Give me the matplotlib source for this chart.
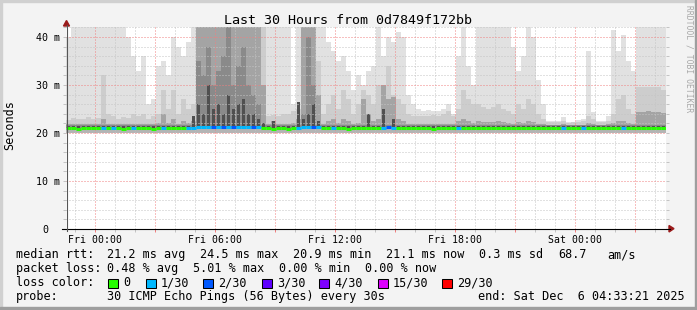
import numpy as np
import pandas as pd
import matplotlib
matplotlib.use("Agg")
import matplotlib.pyplot as plt
import matplotlib.dates as mdates
from matplotlib.lines import Line2D
from matplotlib.patches import Rectangle, Polygon
from matplotlib.ticker import FuncFormatter, MultipleLocator

W, H = 697, 310

title = "Last 30 Hours from 0d7849f172bb"
end_time = pd.Timestamp("2025-12-06 04:33:21")
span_hours = 30
bin_minutes = 15

# smoke bands, top of each band in ms (45 = off the scale), one value per 15 min
smoke_low = 19.9
smoke_top1 = [
    40, 45, 45, 45, 45, 45, 45, 45, 45, 45,
    45, 45, 40, 36, 33, 36, 26, 27, 34, 35,
    32, 40, 38, 36, 39, 45, 45, 45, 45, 45,
    45, 45, 45, 45, 45, 45, 45, 45, 45, 45,
    45, 45, 45, 45, 45, 26, 45, 45, 45, 45,
    45, 42, 39, 37, 35, 36, 33, 29, 32, 30,
    33, 34, 45, 36, 40, 39, 41, 40, 28, 26,
    25, 24.5, 24.8, 24.5, 24.5, 25, 26, 24, 36, 45,
    34, 30, 45, 45, 45, 45, 45, 45, 45, 38,
    33, 36, 45, 40, 31, 26, 22.6, 22.5, 22.6, 23.4,
    22.3, 22.3, 22.8, 23.0, 37, 24.4, 22.5, 22.5, 23.5, 41.5,
    37, 40.4, 35, 33, 45, 45, 45, 45, 45, 45,
]
smoke_top2 = [
    22.8, 23.2, 23.0, 22.9, 23.4, 23.0, 23.2, 32, 24, 23.5,
    23.0, 23.4, 23.2, 24, 23.5, 24, 23.0, 23.5, 24, 29,
    25, 29, 24, 27, 25, 26, 45, 45, 45, 45,
    45, 45, 45, 45, 45, 45, 45, 45, 45, 45,
    23.5, 23.8, 23.5, 24, 24, 24.5, 25, 45, 45, 45,
    35, 24, 26, 28, 25, 29, 27, 24, 26, 29,
    28, 26, 30, 27, 34, 28, 27, 26, 24, 23.5,
    23.5, 23.6, 23.5, 23.7, 23.5, 24, 24.5, 23.5, 25, 29,
    27, 26, 26, 25.5, 25, 25.5, 26, 25, 24.5, 24,
    26, 25, 27, 26, 24, 23, 22.2, 22.2, 22.2, 22.6,
    22.1, 22.2, 22.3, 22.4, 23.5, 23.0, 22.2, 22.2, 22.6, 24,
    27, 28, 25, 24, 29.6, 29.6, 29.6, 29.6, 29.6, 29,
]
smoke_top3 = [
    21.8, 21.8, 21.8, 21.8, 21.8, 21.8, 21.8, 23, 21.8, 21.8,
    21.8, 21.8, 21.8, 21.8, 21.8, 21.8, 21.8, 21.8, 22, 24,
    22, 23, 21.8, 22.5, 22, 22.5, 45, 45, 45, 45,
    45, 45, 45, 45, 45, 45, 45, 45, 45, 30,
    21.8, 22.4, 21.8, 21.8, 21.8, 22, 23, 45, 45, 45,
    28, 21.8, 22.5, 23, 22, 23, 22.5, 21.8, 22, 27,
    24, 22.5, 23, 30, 27, 27.6, 23, 22.5, 21.8, 21.8,
    21.8, 21.8, 21.8, 21.8, 21.8, 21.8, 21.8, 21.8, 22.5, 23,
    22.5, 22, 22.5, 22.3, 22.2, 22.2, 22.5, 22.2, 22, 21.8,
    22.2, 22, 22.5, 22.3, 21.8, 21.8, 21.7, 21.7, 21.7, 21.9,
    21.7, 21.7, 21.7, 21.7, 22, 21.9, 21.7, 21.7, 21.8, 22,
    22.5, 22.5, 22, 21.8, 24.4, 24.4, 24.6, 24.4, 24.4, 24.2,
]
smoke_top4 = [
    21.6, 21.6, 21.6, 21.6, 21.6, 21.6, 21.6, 21.6, 21.6, 21.6,
    21.6, 21.6, 21.6, 21.6, 21.6, 21.6, 21.6, 21.6, 21.6, 21.6,
    21.6, 21.6, 21.6, 21.6, 21.6, 21.6, 35, 32, 38, 30,
    33, 36, 45, 30, 34, 38, 30, 28, 26, 21.6,
    21.6, 21.6, 21.6, 21.6, 21.6, 21.6, 21.6, 24, 40, 30,
    21.6, 21.6, 21.6, 21.6, 21.6, 21.6, 21.6, 21.6, 21.6, 21.6,
    21.6, 21.6, 21.6, 21.6, 21.6, 21.6, 21.6, 21.6, 21.6, 21.6,
    21.6, 21.6, 21.6, 21.6, 21.6, 21.6, 21.6, 21.6, 21.6, 21.6,
    21.6, 21.6, 21.6, 21.6, 21.6, 21.6, 21.6, 21.6, 21.6, 21.6,
    21.6, 21.6, 21.6, 21.6, 21.6, 21.6, 21.6, 21.6, 21.6, 21.6,
    21.6, 21.6, 21.6, 21.6, 21.6, 21.6, 21.6, 21.6, 21.6, 21.6,
    21.6, 21.6, 21.6, 21.6, 21.6, 21.6, 21.6, 21.6, 21.6, 21.6,
]
smoke_core = [
    21.4, 21.4, 21.4, 21.4, 21.4, 21.4, 21.4, 21.4, 21.4, 21.4,
    21.4, 21.4, 21.4, 21.4, 21.4, 21.4, 21.4, 21.4, 21.4, 21.4,
    21.4, 21.4, 21.4, 21.4, 21.4, 23.5, 26, 24, 30, 25,
    26, 24, 28, 25, 26, 27, 24, 24, 23, 22,
    21.4, 22.6, 21.4, 21.4, 21.4, 21.4, 26.5, 23, 24, 26,
    22.5, 21.4, 21.4, 21.4, 21.4, 21.4, 21.4, 21.4, 21.4, 21.4,
    24, 21.4, 21.4, 25, 21.4, 23, 21.4, 21.4, 21.4, 21.4,
    21.4, 21.4, 21.4, 21.4, 21.4, 21.4, 21.4, 21.4, 21.4, 21.4,
    21.4, 21.4, 21.4, 21.4, 21.4, 21.4, 21.4, 21.4, 21.4, 21.4,
    21.4, 21.4, 21.4, 21.4, 21.4, 21.4, 21.4, 21.4, 21.4, 21.4,
    21.4, 21.4, 21.4, 21.4, 21.4, 21.4, 21.4, 21.4, 21.4, 21.4,
    21.4, 21.4, 21.4, 21.4, 21.4, 21.4, 21.4, 21.4, 21.4, 21.4,
]
median_rtt = [
    21.0, 21.0, 20.9, 21.0, 21.0, 21.0, 21.0, 21.1, 21.0, 21.0,
    21.0, 20.9, 21.0, 21.0, 21.0, 21.0, 21.0, 20.9, 21.0, 21.0,
    21.0, 21.0, 21.0, 21.0, 21.0, 21.1, 21.2, 21.2, 21.2, 21.3,
    21.2, 21.2, 21.2, 21.3, 21.2, 21.2, 21.2, 21.2, 21.2, 21.0,
    21.0, 20.9, 21.0, 21.0, 20.9, 21.0, 21.1, 21.2, 21.2, 21.2,
    21.2, 21.0, 21.0, 21.0, 21.0, 21.0, 20.9, 21.0, 21.0, 21.0,
    21.0, 21.0, 21.0, 21.1, 21.2, 21.1, 21.0, 21.0, 21.0, 21.0,
    21.0, 21.0, 21.0, 20.9, 21.0, 21.0, 21.0, 21.0, 21.0, 21.0,
    21.0, 21.0, 21.0, 21.0, 21.0, 21.0, 21.0, 21.0, 21.0, 21.0,
    21.0, 21.0, 21.0, 21.0, 21.0, 21.0, 21.0, 21.0, 21.0, 21.0,
    21.0, 21.0, 21.0, 21.0, 21.0, 21.0, 21.0, 21.0, 21.0, 21.0,
    21.0, 21.0, 21.0, 21.0, 21.0, 21.0, 21.0, 21.0, 21.0, 21.0,
]
# index into loss_labels / loss_colors
loss_idx = [
    0, 0, 0, 0, 0, 0, 0, 1, 0, 1,
    0, 0, 0, 1, 0, 0, 0, 0, 0, 1,
    0, 0, 0, 0, 1, 1, 1, 1, 1, 2,
    1, 2, 1, 2, 1, 1, 1, 2, 1, 0,
    0, 0, 0, 0, 0, 0, 1, 1, 1, 2,
    1, 0, 0, 1, 0, 0, 0, 0, 0, 0,
    0, 0, 0, 1, 2, 1, 0, 0, 0, 0,
    0, 0, 0, 0, 0, 0, 0, 0, 1, 0,
    0, 0, 0, 0, 0, 0, 0, 0, 0, 0,
    0, 0, 0, 0, 0, 0, 0, 0, 0, 1,
    0, 0, 0, 1, 0, 0, 0, 0, 0, 0,
    0, 1, 0, 0, 0, 0, 0, 0, 0, 0,
]
loss_labels = ["0", "1/30", "2/30", "3/30", "4/30", "15/30", "29/30"]
loss_colors = ["#26ff00", "#00b8ff", "#0059ff", "#5e00ff", "#7e00ff", "#dd00ff", "#ff0000"]

rtt_stats = ["21.2 ms avg", "24.5 ms max", "20.9 ms min", "21.1 ms now", "0.3 ms sd", "68.7", "am/s"]
loss_stats = ["0.48 % avg", "5.01 % max", "0.00 % min", "0.00 % now"]
probe_text = "30 ICMP Echo Pings (56 Bytes) every 30s"
end_text = "end: Sat Dec  6 04:33:21 2025"


def fx(px):
    return px / W


def fy(py):
    return 1 - py / H


plt.rcParams["font.family"] = "DejaVu Sans Mono"

fig = plt.figure(figsize=(W / 100, H / 100), dpi=100, facecolor="#f3f3f3")
ax = fig.add_axes([fx(66), fy(229), 600 / W, 201.6 / H])
ax.set_facecolor("white")

# time bins
start = end_time - pd.Timedelta(hours=span_hours)
n = len(smoke_top1)
t0 = mdates.date2num(pd.date_range(start, periods=n, freq=f"{bin_minutes}min").to_pydatetime())
bw = bin_minutes / 1440.0
tc = t0 + bw / 2

# smoke, outer band first, darker bands on top
bands = [
    (smoke_top1, "#e1e1e1", 1.0),
    (smoke_top2, "#cdcdcd", 1.0),
    (smoke_top3, "#a4a4a4", 1.0),
    (smoke_top4, "#8a8a8a", 1.0),
    (smoke_core, "#505050", 0.45),
]
for tops, col, frac in bands:
    tops = np.array(tops, dtype=float)
    ax.bar(tc, tops - smoke_low, bottom=smoke_low, width=bw * frac,
           color=col, linewidth=0, zorder=1)

med = np.array(median_rtt)
ax.bar(tc, med - smoke_low, bottom=smoke_low, width=bw, color="#b4b4b4", linewidth=0, zorder=1.5)

# median line coloured by loss
ax.hlines(med, t0, t0 + bw, colors=[loss_colors[k] for k in loss_idx], lw=2.2, zorder=3)

ax.set_xlim(t0[0], t0[-1] + bw)
ax.set_ylim(0, 42)

# grid
ax.xaxis.set_major_locator(mdates.HourLocator(byhour=range(0, 24, 3)))
ax.xaxis.set_minor_locator(mdates.HourLocator())


def xfmt(v, pos):
    d = mdates.num2date(v)
    return d.strftime("%a %H:%M") if d.hour % 6 == 0 else ""


ax.xaxis.set_major_formatter(FuncFormatter(xfmt))
ax.yaxis.set_major_locator(MultipleLocator(10))
ax.yaxis.set_minor_locator(MultipleLocator(2))
ax.yaxis.set_major_formatter(FuncFormatter(lambda v, p: ""))

ax.set_axisbelow(False)
ax.grid(which="minor", color="#c4c4c4", lw=0.72, ls=(0, (1, 2)))
ax.grid(which="major", color="#f08080", lw=0.72, ls=(0, (1, 2)))
ax.tick_params(axis="x", which="major", direction="out", length=2, width=0.72,
               color="#f08080", pad=2.5, labelsize=7.1)
ax.tick_params(axis="x", which="minor", direction="out", length=2, width=0.72, color="#c4c4c4")
ax.tick_params(axis="y", which="both", direction="out", length=2, width=0.72,
               left=True, right=True, color="#c4c4c4")
for s in ax.spines.values():
    s.set_visible(False)

# y labels
for v in [0, 10, 20, 30, 40]:
    if v == 0:
        ax.text(-18 / 600, v, "0", transform=ax.get_yaxis_transform(),
                ha="right", va="center_baseline", fontsize=7.2)
    else:
        ax.text(-6 / 600, v, f"{v} m", transform=ax.get_yaxis_transform(),
                ha="right", va="center_baseline", fontsize=7.2)

# axes lines and arrows
fig.add_artist(Line2D([fx(62), fx(670)], [fy(228.6), fy(228.6)], color="black", lw=0.8))
fig.add_artist(Line2D([fx(66.5), fx(66.5)], [fy(231), fy(25)], color="#555555", lw=0.8))
fig.add_artist(Polygon([[fx(669), fy(225.5)], [fx(669), fy(232)], [fx(674), fy(228.6)]],
                       closed=True, color="#9a1a1a", transform=fig.transFigure))
fig.add_artist(Polygon([[fx(63.5), fy(26)], [fx(69.5), fy(26)], [fx(66.5), fy(20.5)]],
                       closed=True, color="#9a1a1a", transform=fig.transFigure))

# texts
fig.text(fx(347.5), fy(24), title, ha="center", va="baseline", fontsize=9.6)
fig.text(fx(10), fy(125.5), "Seconds", rotation=90, ha="center", va="center", fontsize=8.5)
fig.text(fx(689), fy(59), "RRDTOOL / TOBI OETIKER", rotation=270, ha="center", va="center",
         fontsize=5.8, color="#a8a8a8")

lg = dict(ha="left", va="baseline", fontsize=8.5)
fig.text(fx(16), fy(258), "median rtt:", **lg)
for s, x in zip(rtt_stats, [107, 200, 293, 386, 479, 558, 607]):
    fig.text(fx(x), fy(258), s, **lg)

fig.text(fx(16), fy(272), "packet loss:", **lg)
for s, x in zip(loss_stats, [107, 193, 279, 365]):
    fig.text(fx(x), fy(272), s, **lg)

fig.text(fx(16), fy(286), "loss color:", **lg)
for lab, col, x in zip(loss_labels, loss_colors, [108, 146, 203, 262, 319, 378, 442]):
    fig.add_artist(Rectangle((fx(x), fy(287.5)), 10 / W, 9 / H, facecolor=col,
                             edgecolor="black", lw=0.75, transform=fig.transFigure))
    fig.text(fx(x + 15), fy(286), lab, **lg)

fig.text(fx(16), fy(300), "probe:", **lg)
fig.text(fx(107), fy(300), probe_text, **lg)
fig.text(fx(478), fy(300), end_text, **lg)

# frame
fig.add_artist(Rectangle((0, fy(2)), 1, 2 / H, color="#d0d0d0", transform=fig.transFigure))
fig.add_artist(Rectangle((0, 0), 2 / W, 1, color="#d0d0d0", transform=fig.transFigure))
fig.add_artist(Rectangle((fx(695), 0), 2 / W, 1, color="#9e9e9e", transform=fig.transFigure))
fig.add_artist(Rectangle((0, 0), 1, 3 / H, color="#9e9e9e", transform=fig.transFigure))

fig.savefig("out.png", dpi=100, facecolor=fig.get_facecolor())
